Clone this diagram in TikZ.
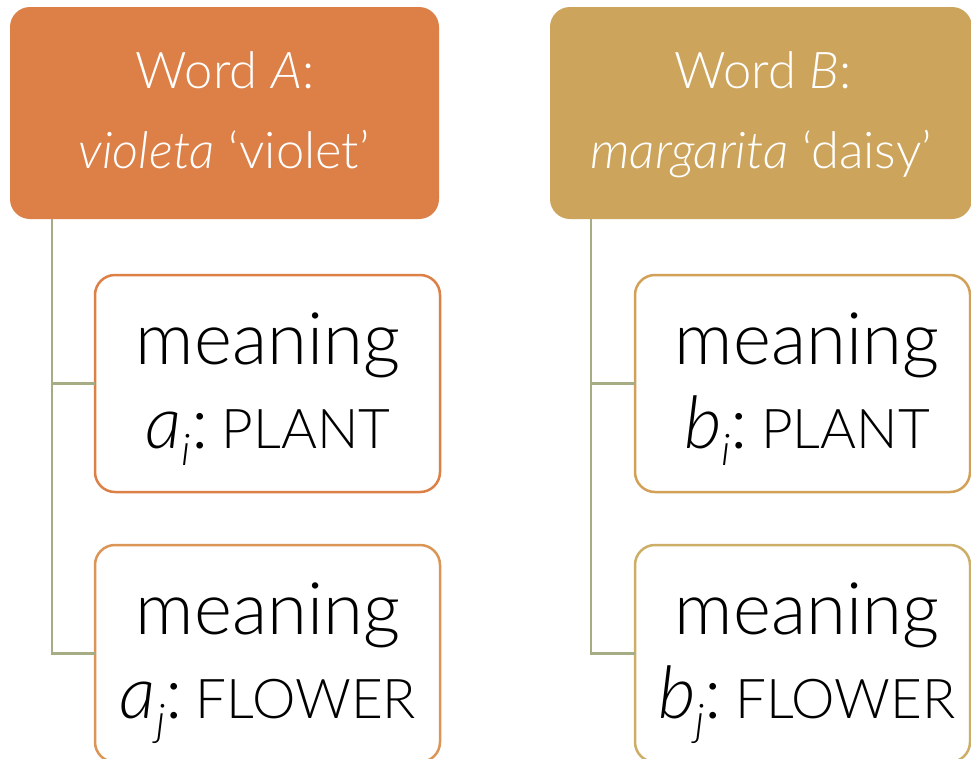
\documentclass[tikz,border=0pt]{standalone}
\usepackage{fontspec}
\setmainfont{Carlito}
\IfFontExistsTF{Lato Light}{%
  \newfontfamily\lightfont{Lato Light}[ItalicFont={Lato Light Italic}]%
  \def\lightscale{0.93}}{%
  \newfontfamily\lightfont{Carlito}\def\lightscale{1}}
\definecolor{hdrA}{HTML}{DD8047}
\definecolor{hdrB}{HTML}{CCA45B}
\definecolor{brdAone}{HTML}{DD8047}
\definecolor{brdAtwo}{HTML}{DA9557}
\definecolor{brdBone}{HTML}{D2A157}
\definecolor{brdBtwo}{HTML}{CDAE66}
\definecolor{conn}{HTML}{A6AC83}
\tikzset{
  hdrbox/.style={rectangle, rounded corners=20pt, draw=none, inner sep=0pt, outer sep=0pt, minimum height=212pt},
  childbox/.style={rectangle, rounded corners=20pt, line width=2.5pt, fill=white, inner sep=0pt, outer sep=0pt, minimum height=217pt},
  hdrtext/.style={anchor=base, text=white, inner sep=0pt, font=\lightfont\fontsize{\lightscale\dimexpr 54.5pt\relax}{60}\selectfont},
  childtext/.style={anchor=base, text=black, inner sep=0pt, font=\lightfont\fontsize{\lightscale\dimexpr 78pt\relax}{80}\selectfont},
  connline/.style={draw=conn, line width=2.5pt}
}
\newcommand{\capsz}[1]{{\fontsize{\lightscale\dimexpr 59pt\relax}{60}\selectfont #1}}
\newcommand{\subsc}[1]{\raisebox{-17pt}{\fontsize{\lightscale\dimexpr 47pt\relax}{48}\selectfont\itshape #1}}
\begin{document}
\begin{tikzpicture}[x=1pt,y=-1pt]
\useasboundingbox (0,0) rectangle (971,758);
\fill[white] (0,0) rectangle (971,758);
\clip (0,0) rectangle (971,758);
% connectors
\coordinate (ca) at (52,219);
\coordinate (cb) at (591,219);
% header boxes
\node[hdrbox, fill=hdrA, minimum width=429pt] (wa) at (224.5,113) {};
\node[hdrbox, fill=hdrB, minimum width=422pt] (wb) at (761,113) {};
% child boxes
\node[childbox, draw=brdAone, minimum width=345pt] (a1) at (267.5,383.5) {};
\node[childbox, draw=brdAtwo, minimum width=345pt] (a2) at (267.5,653.5) {};
\node[childbox, draw=brdBone, minimum width=335pt] (b1) at (802.5,383.5) {};
\node[childbox, draw=brdBtwo, minimum width=335pt] (b2) at (802.5,653.5) {};
% connector lines
\draw[connline] (wa.south -| ca) |- (a2.west);
\draw[connline] (ca |- a1.west) -- (a1.west);
\draw[connline] (wb.south -| cb) |- (b2.west);
\draw[connline] (cb |- b1.west) -- (b1.west);
% header texts
\node[hdrtext] (wa1) at (225,88) {Word \textit{A}:};
\node[hdrtext] (wa2) at (224,168) {\textit{violeta} ‘violet’};
\node[hdrtext] (wb1) at (763,88) {Word \textit{B}:};
\node[hdrtext] (wb2) at (761,168) {\textit{margarita} ‘daisy’};
% child texts
\node[childtext] (a1t) at (268,364) {meaning};
\node[childtext] (a1u) at (268,448) {\textit{a}\subsc{i}:\hspace{0.18em}\capsz{PLANT}};
\node[childtext] (a2t) at (268,634) {meaning};
\node[childtext] (a2u) at (268,718) {\textit{a}\subsc{j}:\hspace{0.18em}\capsz{FLOWER}};
\node[childtext] (b1t) at (807,364) {meaning};
\node[childtext] (b1u) at (807,448) {\textit{b}\subsc{i}:\hspace{0.18em}\capsz{PLANT}};
\node[childtext] (b2t) at (807,634) {meaning};
\node[childtext] (b2u) at (807,718) {\textit{b}\subsc{j}:\hspace{0.18em}\capsz{FLOWER}};
\end{tikzpicture}
\end{document}
